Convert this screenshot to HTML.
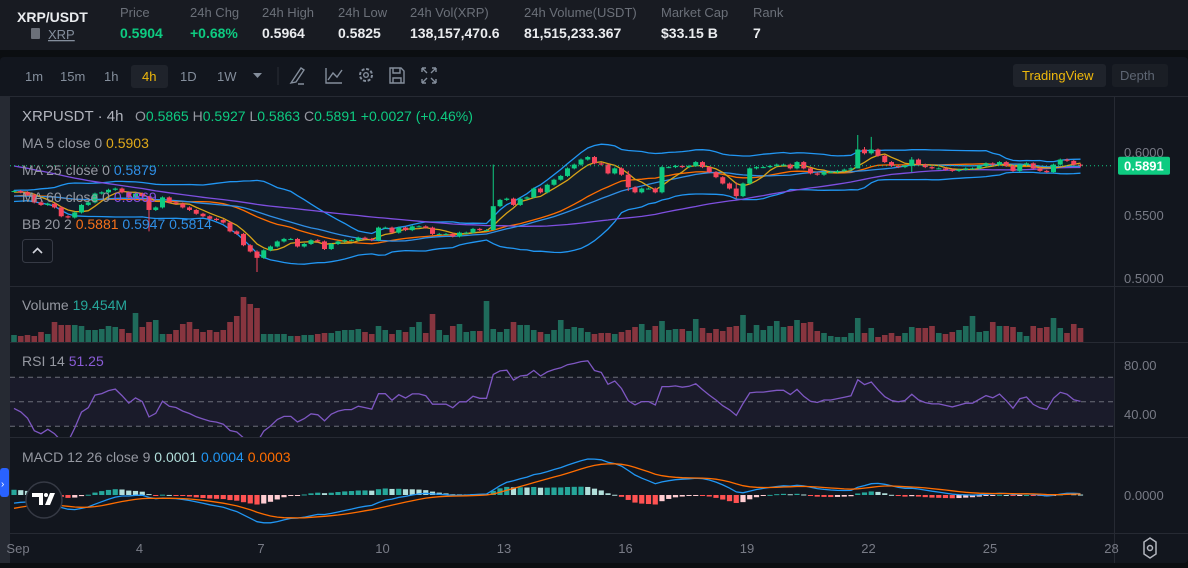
<!DOCTYPE html>
<html><head><meta charset="utf-8">
<style>
html,body{margin:0;padding:0;background:#0b0e11;width:1188px;height:568px;overflow:hidden;font-family:"Liberation Sans",sans-serif;}
svg{position:absolute;left:0;top:0;}
text{font-family:"Liberation Sans",sans-serif;}
</style></head>
<body>
<svg id="s" width="1188" height="568" xmlns="http://www.w3.org/2000/svg">
  <rect x="0" y="0" width="1188" height="50" fill="#181b22"/>
  <text x="17" y="22" fill="#eaecef" font-size="14" font-weight="bold">XRP/USDT</text>
  <rect x="31" y="28" width="9" height="11" rx="1" fill="#6b7079"/>
  <text x="48" y="39" fill="#848e9c" font-size="13" text-decoration="underline">XRP</text>
  <g font-size="13" fill="#6b7079">
    <text x="120" y="17">Price</text><text x="190" y="17">24h Chg</text><text x="262" y="17">24h High</text>
    <text x="338" y="17">24h Low</text><text x="410" y="17">24h Vol(XRP)</text><text x="524" y="17">24h Volume(USDT)</text>
    <text x="661" y="17">Market Cap</text><text x="753" y="17">Rank</text>
  </g>
  <g font-size="14" font-weight="bold" fill="#eaecef">
    <text x="120" y="38" fill="#0ecb81">0.5904</text><text x="190" y="38" fill="#0ecb81">+0.68%</text>
    <text x="262" y="38">0.5964</text><text x="338" y="38">0.5825</text><text x="410" y="38">138,157,470.6</text>
    <text x="524" y="38">81,515,233.367</text><text x="661" y="38">$33.15 B</text><text x="753" y="38">7</text>
  </g>
  <rect x="0" y="57" width="1188" height="506" rx="4" fill="#12161e"/>
  <rect x="0" y="96" width="10" height="467" fill="#262a33"/>
  <rect x="0" y="468" width="9" height="29" rx="3" fill="#2962ff"/>
  <text x="1" y="487" fill="#fff" font-size="10">›</text>
  <g font-size="13" fill="#848e9c">
    <text x="25" y="81">1m</text>
    <text x="60" y="81">15m</text>
    <text x="104" y="81">1h</text>
    <rect x="131" y="65" width="37" height="23" rx="3" fill="#1f232b"/>
    <text x="142" y="81" fill="#f0b90b">4h</text>
    <text x="180" y="81">1D</text>
    <text x="217" y="81">1W</text>
    <path d="M253 73 L262 73 L257.5 78 Z" fill="#848e9c"/>
    <line x1="278" y1="67" x2="278" y2="85" stroke="#2b2f36"/>
    <path d="M291 83 L296 82 L304 70 L301 68 L293 80 Z M298 84 L304 84" fill="none" stroke="#848e9c" stroke-width="1.4"/>
    <path d="M326 68 L326 83 L342 83 M328 80 L333 73 L337 77 L342 70" fill="none" stroke="#848e9c" stroke-width="1.4"/>
    <circle cx="366" cy="75" r="6" fill="none" stroke="#848e9c" stroke-width="2" stroke-dasharray="3 1.7"/>
    <circle cx="366" cy="75" r="2.3" fill="none" stroke="#848e9c" stroke-width="1.4"/>
    <path d="M390 68 L401 68 L404 71 L404 83 L390 83 Z M393 68 L393 73 L400 73 L400 68 M393 83 L393 78 L401 78 L401 83" fill="none" stroke="#848e9c" stroke-width="1.4"/>
    <path d="M422 68 L426 68 M422 68 L422 72 M436 68 L432 68 M436 68 L436 72 M422 83 L426 83 M422 83 L422 79 M436 83 L432 83 M436 83 L436 79 M422 68 L427 73 M436 68 L431 73 M422 83 L427 78 M436 83 L431 78" fill="none" stroke="#848e9c" stroke-width="1.4"/>
    <rect x="1013" y="64" width="93" height="23" rx="3" fill="#1f232b"/>
    <text x="1022" y="80" fill="#f0b90b">TradingView</text>
    <rect x="1112" y="64" width="56" height="23" rx="3" fill="#1a1e25"/>
    <text x="1120" y="80" fill="#5e6673">Depth</text>
  </g>
  <g stroke="#262a33" stroke-width="1">
    <line x1="10" y1="96.5" x2="1188" y2="96.5"/>
    <line x1="10" y1="286.5" x2="1188" y2="286.5"/>
    <line x1="10" y1="342.5" x2="1188" y2="342.5"/>
    <line x1="10" y1="437.5" x2="1188" y2="437.5"/>
    <line x1="10" y1="533.5" x2="1188" y2="533.5"/>
    <line x1="1114.5" y1="96" x2="1114.5" y2="563"/>
  </g>
  <defs>
    <clipPath id="cm"><rect x="10" y="97" width="1104" height="189"/></clipPath>
    <clipPath id="cv"><rect x="10" y="287" width="1104" height="55"/></clipPath>
    <clipPath id="cr"><rect x="10" y="343" width="1104" height="94"/></clipPath>
    <clipPath id="cd"><rect x="10" y="438" width="1104" height="95"/></clipPath>
  </defs>
  <g id="gm" clip-path="url(#cm)"></g>
  <g id="gv" clip-path="url(#cv)"></g>
  <g id="gr" clip-path="url(#cr)"></g>
  <g id="gd" clip-path="url(#cd)"></g>
  <g id="ga"></g>
  <g font-size="14">
    <text x="22" y="121" fill="#b2b5be" font-size="15"><tspan>XRPUSDT · 4h</tspan></text>
    <text x="135" y="121" fill="#0ecb81"><tspan fill="#9598a1">O</tspan>0.5865 <tspan fill="#9598a1">H</tspan>0.5927 <tspan fill="#9598a1">L</tspan>0.5863 <tspan fill="#9598a1">C</tspan>0.5891 +0.0027 (+0.46%)</text>
    <text x="22" y="148" fill="#9598a1">MA 5 close 0 <tspan fill="#e0a91a">0.5903</tspan></text>
    <text x="22" y="175" fill="#9598a1">MA 25 close 0 <tspan fill="#2f8fe6">0.5879</tspan></text>
    <text x="22" y="202" fill="#9598a1">MA 60 close 0 <tspan fill="#8a4fe6">0.5869</tspan></text>
    <text x="22" y="229" fill="#9598a1">BB 20 2 <tspan fill="#f7711a">0.5881</tspan> <tspan fill="#2f8fe6">0.5947</tspan> <tspan fill="#2f8fe6">0.5814</tspan></text>
  </g>
  <rect x="22.5" y="239.5" width="30" height="23" rx="3" fill="#12161e" stroke="#363a45"/>
  <path d="M33 253 L37.5 248.5 L42 253" fill="none" stroke="#d1d4dc" stroke-width="1.6"/>
  <text x="22" y="310" font-size="14" fill="#9598a1">Volume <tspan fill="#26a69a">19.454M</tspan></text>
  <text x="22" y="366" font-size="14" fill="#9598a1">RSI 14 <tspan fill="#8a5cd6">51.25</tspan></text>
  <text x="22" y="462" font-size="14" fill="#9598a1">MACD 12 26 close 9 <tspan fill="#b2dfdb">0.0001</tspan> <tspan fill="#2196f3">0.0004</tspan> <tspan fill="#ff6d00">0.0003</tspan></text>
  <g>
    <circle cx="44" cy="500" r="18" fill="#12161e" stroke="#363a45" stroke-width="1.5"/>
    <path d="M32 493 L43 493 L43 505 L39 505 L39 497 L32 497 Z M45 505 L50 493 L55 493 L50 505 Z" fill="#fff"/>
    <circle cx="46" cy="495" r="2" fill="#fff"/>
  </g>
  <g>
    <path d="M1144 542 L1156 542 L1160 548 L1156 554 L1144 554 L1140 548 Z" fill="none" stroke="#b2b5be" stroke-width="1.5" transform="rotate(90 1150 548)"/>
    <circle cx="1150" cy="548" r="2.5" fill="none" stroke="#b2b5be" stroke-width="1.5"/>
  </g>
</svg>
<script>
const priorCloses = [0.620,0.622,0.621,0.623,0.624,0.622,0.620,0.621,0.619,0.617,
0.618,0.620,0.619,0.617,0.615,0.616,0.614,0.612,0.613,0.611,
0.610,0.611,0.609,0.606,0.603,0.600,0.597,0.594,0.590,0.586,
0.583,0.580,0.577,0.574,0.572,0.570,0.568,0.566,0.564,0.563,
0.562,0.562,0.563,0.564,0.563,0.564,0.565,0.564,0.563,0.562,
0.563,0.564,0.565,0.566,0.566,0.567,0.568,0.567,0.568,0.569];
const closes = [0.569,0.568,0.566,0.560,0.558,0.559,0.556,0.549,0.548,0.552,
0.558,0.560,0.567,0.568,0.570,0.571,0.568,0.564,0.567,0.565,
0.554,0.556,0.564,0.560,0.559,0.556,0.554,0.551,0.549,0.547,
0.546,0.544,0.537,0.535,0.526,0.521,0.516,0.522,0.525,0.529,
0.531,0.531,0.525,0.527,0.530,0.529,0.523,0.527,0.529,0.530,
0.530,0.532,0.531,0.530,0.540,0.540,0.536,0.540,0.538,0.541,
0.541,0.540,0.535,0.535,0.535,0.533,0.536,0.536,0.539,0.538,
0.538,0.557,0.562,0.563,0.558,0.563,0.564,0.571,0.568,0.574,
0.578,0.581,0.587,0.590,0.594,0.596,0.591,0.590,0.583,0.587,
0.582,0.572,0.568,0.571,0.571,0.568,0.588,0.588,0.589,0.588,
0.589,0.592,0.588,0.584,0.580,0.575,0.571,0.565,0.575,0.587,
0.588,0.588,0.589,0.590,0.590,0.587,0.592,0.587,0.583,0.582,
0.584,0.584,0.585,0.586,0.587,0.602,0.599,0.602,0.597,0.592,
0.589,0.588,0.589,0.594,0.590,0.588,0.587,0.587,0.586,0.585,
0.586,0.587,0.587,0.589,0.591,0.590,0.592,0.589,0.585,0.590,
0.591,0.587,0.585,0.584,0.590,0.594,0.593,0.590,0.5891];
const wickIdx  = [20, 36, 71, 107, 125, 126, 127, 91, 133];
const wickHigh = [0.556, 0.522, 0.590, 0.576, 0.6135, 0.604, 0.612, 0.585, 0.596];
const wickLow  = [0.537, 0.5048, 0.538, 0.563, 0.587, 0.598, 0.598, 0.569, 0.584];
const volumes = [7,6,7,6,10,8,20,17,17,17,16,12,12,13,16,15,13,9,29,15,20,22,8,8,12,18,20,13,10,12,
10,12,20,26,45,38,34,8,8,8,8,6,6,7,7,8,9,9,11,12,12,13,10,8,16,12,8,12,10,15,
20,9,28,12,7,16,18,10,11,11,41,13,10,13,20,17,17,12,10,8,12,22,13,15,14,10,8,
9,9,8,10,12,15,18,12,16,21,12,13,13,11,23,14,9,13,11,15,16,27,9,17,12,16,21,15,16,22,19,20,11,9,6,5,5,9,24,9,14,5,7,9,6,9,15,14,14,16,9,8,10,12,16,26,10,11,20,16,16,15,10,6,16,14,15,24,14,9,18,14];
const timeLabels = ["Sep","4","7","10","13","16","19","22","25","28"];
const timeLabelIdx = [0,18,36,54,72,90,108,126,144,162];
const priceTicks = [0.6000,0.5500,0.5000];
const rsiTicks = [80,40];
const rsiLevels = [70,50,30];

const NS = "http://www.w3.org/2000/svg";
const X = i => 14 + 6.75 * i;
const PY = p => 152 + (0.6 - p) * 1260;
const VY = v => 342 - v * 1.0;
const RY = v => 365 + (80 - v) * 1.225;
function el(tag, attrs, parent) {
  const e = document.createElementNS(NS, tag);
  for (const k in attrs) e.setAttribute(k, attrs[k]);
  parent.appendChild(e);
  return e;
}
const gm = document.getElementById('gm'), gv = document.getElementById('gv'),
      gr = document.getElementById('gr'), gd = document.getElementById('gd'), ga = document.getElementById('ga');
const all = priorCloses.concat(closes);
const P = priorCloses.length;
const N = closes.length;
const UP = "#0ecb81", DN = "#f6465d";

function sma(arr, n, k) { let s = 0, c = 0; for (let j = Math.max(0, k - n + 1); j <= k; j++) { s += arr[j]; c++; } return s / c; }
function sd(arr, n, k, m) { let s = 0, c = 0; for (let j = Math.max(0, k - n + 1); j <= k; j++) { s += (arr[j] - m) ** 2; c++; } return Math.sqrt(s / c); }
function pathOf(vals, yf) { return vals.map((v, i) => (i ? 'L' : 'M') + X(i).toFixed(1) + ' ' + yf(v).toFixed(1)).join(' '); }

const ma5 = [], ma25 = [], ma60 = [], bbM = [], bbU = [], bbL = [];
for (let i = 0; i < N; i++) {
  const k = P + i;
  ma5.push(sma(all, 5, k)); ma25.push(sma(all, 25, k)); ma60.push(sma(all, 60, k));
  const m = sma(all, 20, k), s = sd(all, 20, k, m);
  bbM.push(m); bbU.push(m + 2 * s); bbL.push(m - 2 * s);
}
let fill = pathOf(bbU, PY);
for (let i = N - 1; i >= 0; i--) fill += ' L' + X(i).toFixed(1) + ' ' + PY(bbL[i]).toFixed(1);
const bf = el('path', { d: fill + ' Z', fill: 'rgba(33,150,243,0.06)' }, gm);


const lines = [[bbU, '#2196f3', 'bb-upper'], [bbL, '#2196f3', 'bb-lower'], [bbM, '#ff6d00', 'bb-basis'],
  [ma60, '#7e4fe0', 'ma60-line'], [ma25, '#2f8fe6', 'ma25-line'], [ma5, '#d9a317', 'ma5-line']];
lines.forEach(([vals, col, nm]) => {
  const p = el('path', { d: pathOf(vals, PY), fill: 'none', stroke: col, 'stroke-width': 1.3 }, gm);
  
  
});
for (let i = 0; i < N; i++) {
  const o = all[P + i - 1], c = closes[i];
  let h = Math.max(o, c) + 0.0008, l = Math.min(o, c) - 0.0008;
  const w = wickIdx.indexOf(i);
  if (w >= 0) { h = wickHigh[w]; l = wickLow[w]; }
  const col = c >= o ? UP : DN;
  const g = el('g', {}, gm);
  
  
  el('line', { x1: X(i), x2: X(i), y1: PY(h), y2: PY(l), stroke: col, 'stroke-width': 1 }, g);
  const top = PY(Math.max(o, c)), bh = Math.max(1, Math.abs(PY(o) - PY(c)));
  el('rect', { x: X(i) - 2.5, y: top, width: 5, height: bh, fill: col }, g);
  const vb = el('rect', { x: X(i) - 2.8, y: VY(volumes[i]), width: 5.6, height: 342 - VY(volumes[i]), fill: c >= o ? '#1f6b5b' : '#87353f' }, gv);
  
  
}
const lastY = PY(closes[N - 1]);
const ll = el('line', { x1: 10, x2: 1114, y1: lastY, y2: lastY, stroke: '#0ecb81', 'stroke-dasharray': '1 3', 'stroke-width': 1 }, ga);


const lb = el('rect', { x: 1118, y: lastY - 9, width: 52, height: 18, rx: 2, fill: '#0ecb81' }, ga);


const lt = el('text', { x: 1124, y: lastY + 5, fill: '#fff', 'font-size': 13, 'font-weight': 'bold' }, ga);


lt.textContent = closes[N - 1].toFixed(4);

priceTicks.forEach(p => {
  const t = el('text', { x: 1124, y: PY(p) + 5, fill: '#787b86', 'font-size': 13 }, ga);
  
  
  t.textContent = p.toFixed(4);
});

const rsi = [];
{ let ag = 0, al = 0;
  for (let k = 1; k <= 14; k++) { const d = all[k] - all[k - 1]; ag += Math.max(d, 0); al += Math.max(-d, 0); }
  ag /= 14; al /= 14;
  for (let k = 15; k < all.length; k++) {
    const d = all[k] - all[k - 1];
    ag = (ag * 13 + Math.max(d, 0)) / 14; al = (al * 13 + Math.max(-d, 0)) / 14;
    if (k >= P) rsi.push(al === 0 ? 100 : 100 - 100 / (1 + ag / al));
  } }
const rb = el('rect', { x: 10, y: RY(70), width: 1104, height: RY(30) - RY(70), fill: 'rgba(126,87,194,0.08)' }, gr);


rsiLevels.forEach(v => {
  const l = el('line', { x1: 10, x2: 1114, y1: RY(v), y2: RY(v), stroke: '#6a6d78', 'stroke-dasharray': '5 4', 'stroke-width': 1 }, gr);
  
  
});
const rl = el('path', { d: pathOf(rsi, RY), fill: 'none', stroke: '#7e57c2', 'stroke-width': 1.3 }, gr);


rsiTicks.forEach(v => {
  const t = el('text', { x: 1124, y: RY(v) + 5, fill: '#787b86', 'font-size': 13 }, ga);
  
  
  t.textContent = v.toFixed(2);
});

const ema = (arr, n) => { const a = 2 / (n + 1); const out = [arr[0]]; for (let k = 1; k < arr.length; k++) out.push(arr[k] * a + out[k - 1] * (1 - a)); return out; };
const e12 = ema(all, 12), e26 = ema(all, 26);
const macdAll = e12.map((v, k) => v - e26[k]);
const sigAll = ema(macdAll, 9);
const macd = macdAll.slice(P), sig = sigAll.slice(P), hist = macd.map((v, i) => v - sig[i]);
const maxAbs = Math.max(...macd.map(Math.abs), ...sig.map(Math.abs));
const MY = v => 495 - v * (36 / maxAbs);
for (let i = 0; i < N; i++) {
  const h = hist[i], prev = i ? hist[i - 1] : h;
  const col = h >= 0 ? (h >= prev ? '#26a69a' : '#b2dfdb') : (h < prev ? '#ff5252' : '#ffcdd2');
  const y1 = Math.min(MY(h), 495), hh = Math.max(1, Math.abs(MY(h) - 495));
  const r = el('rect', { x: X(i) - 2.6, y: y1, width: 5.2, height: hh, fill: col }, gd);
  
  
}
const ml = el('path', { d: pathOf(macd, MY), fill: 'none', stroke: '#2196f3', 'stroke-width': 1.3 }, gd);


const sl = el('path', { d: pathOf(sig, MY), fill: 'none', stroke: '#ff6d00', 'stroke-width': 1.3 }, gd);


const mt = el('text', { x: 1124, y: 500, fill: '#787b86', 'font-size': 13 }, ga);


mt.textContent = '0.0000';

timeLabels.forEach((s, j) => {
  const t = el('text', { x: X(timeLabelIdx[j]) + (j === 0 ? 4 : 4), y: 553, fill: '#787b86', 'font-size': 13, 'text-anchor': 'middle' }, ga);
  
  
  t.textContent = s;
});
</script>
</body></html>
